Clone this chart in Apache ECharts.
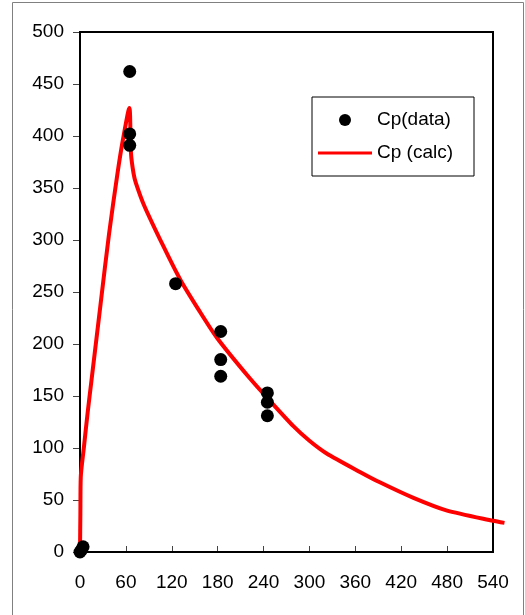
<!DOCTYPE html>
<html>
<head>
<meta charset="utf-8">
<script src="https://cdn.jsdelivr.net/npm/echarts@6/dist/echarts.min.js"></script>
<style>
  html, body { margin: 0; padding: 0; background: #fff; }
  #chart { width: 525px; height: 615px; }
</style>
</head>
<body>
<div id="chart"></div>
<script>
// 测量值 Cp(data): [时间, 浓度]
var cpData = [
  [0, 0], [2, 2], [4, 5],
  [65, 462], [65, 402], [65, 391],
  [125, 258],
  [184, 212], [184, 185], [184, 169],
  [245, 153], [245, 144], [245, 131]
];
// 计算曲线 Cp (calc)，最后一点超出 540
var cpCalc = [
  [0, 0], [0.5, 37], [1, 72], [5, 100], [10, 134], [15, 165], [27, 239],
  [38, 306], [49, 364], [56, 396], [64.5, 427], [66.7, 383], [70, 364],
  [73, 355], [84, 333], [109, 294], [131, 262], [155, 233], [179, 206],
  [222, 167], [250, 144], [279, 121], [300, 107], [322, 95], [366, 77],
  [392, 67], [436, 52], [479, 40], [540, 30], [555, 28]
];
var xTickValues = [0, 60, 120, 180, 240, 300, 360, 420, 480, 540];
var xMax = 555.7;  // 轴范围稍大于 540，让曲线尾巴画在框外
var yTicks = [0, 500, 50];

var font = 'Liberation Sans, Arial, sans-serif';
// 图例里的线段图标（上下留白，保持细线）
var lineIcon = 'path://M0,0L0.01,0L0.01,0.01Z M0,4.5L54,4.5L54,7.5L0,7.5Z M0,12L0.01,12L0.01,11.99Z';

var myChart = echarts.init(document.getElementById('chart'));
var option = {
  animation: false,
  backgroundColor: '#fff',
  textStyle: { fontFamily: font },
  graphic: [{
    type: 'rect',
    shape: { x: 12.5, y: 2.5, width: 511, height: 630 },
    style: { fill: 'none', stroke: '#808080', lineWidth: 1 },
    z: -1
  }, {
    // 绘图区外框（0~540）
    type: 'rect',
    shape: { x: 80, y: 32, width: 413, height: 520 },
    style: { fill: 'none', stroke: '#000', lineWidth: 2 },
    z: 1
  }],
  grid: {
    left: 80, top: 32, right: 20, bottom: 63
  },
  legend: {
    orient: 'vertical',
    left: 312, top: 97,
    backgroundColor: '#fff',
    borderColor: '#000', borderWidth: 1,
    padding: [13, 21, 13, 6],
    itemGap: 13,
    itemWidth: 54,
    itemHeight: 12,
    textStyle: { fontSize: 19, color: '#000', fontFamily: font, lineHeight: 20 },
    data: [
      { name: 'Cp(data)', icon: 'circle' },
      { name: 'Cp (calc)', icon: lineIcon }
    ]
  },
  xAxis: {
    type: 'value',
    min: 0, max: xMax,
    splitLine: { show: false },
    axisLine: { show: false },
    axisTick: { show: true, inside: true, length: 6, customValues: xTickValues, lineStyle: { color: '#444', width: 1 } },
    axisLabel: { fontSize: 19, color: '#000', margin: 21, fontFamily: font, customValues: xTickValues }
  },
  yAxis: {
    type: 'value',
    min: yTicks[0], max: yTicks[1], interval: yTicks[2],
    splitLine: { show: false },
    axisLine: { show: true, lineStyle: { color: '#000', width: 2 } },
    axisTick: { show: true, length: 7, lineStyle: { color: '#444', width: 1 } },
    axisLabel: { fontSize: 19, color: '#000', margin: 16, fontFamily: font }
  },
  series: [{
    name: 'Cp (calc)',
    type: 'line',
    data: cpCalc,
    symbol: 'none',
    smooth: 0.25,
    clip: false,
    lineStyle: { color: '#ff0000', width: 4 },
    itemStyle: { color: '#ff0000' },
    z: 5
  }, {
    name: 'Cp(data)',
    type: 'scatter',
    data: cpData,
    symbolSize: 13,
    itemStyle: { color: '#000', opacity: 1 },
    z: 6
  }]
};
myChart.setOption(option);
</script>
</body>
</html>
